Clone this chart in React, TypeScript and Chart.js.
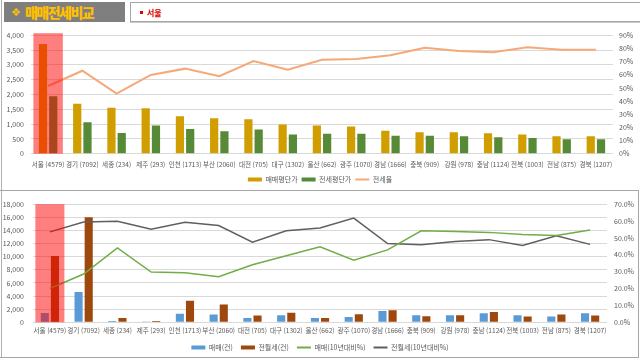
import React, { useEffect, useRef } from 'react';
import { Chart, registerables } from 'chart.js';

Chart.register(...registerables);

const categories = [
  '서울 (4579)', '경기 (7092)', '세종 (234)', '제주 (293)', '인천 (1713)', '부산 (2060)',
  '대전 (705)', '대구 (1302)', '울산 (662)', '광주 (1070)', '경남 (1666)', '충북 (909)',
  '강원 (978)', '충남 (1124)', '전북 (1003)', '전남 (875)', '경북 (1207)',
];

// Top chart
const salePrice = [3700, 1690, 1550, 1530, 1265, 1200, 1165, 985, 955, 920, 775, 720, 720, 690, 645, 590, 590];
const jeonsePrice = [1940, 1065, 700, 955, 830, 755, 820, 645, 675, 675, 610, 610, 590, 555, 530, 490, 490];
const jeonseRate = [51.4, 63, 45.6, 59.8, 64.6, 58.8, 70.3, 63.8, 71.3, 72, 74.8, 80.5, 78, 77, 80.8, 79, 79];

// Bottom chart
const tradeCount = [1400, 4600, 200, 60, 1320, 1180, 640, 1080, 640, 790, 1720, 1080, 1080, 1370, 1080, 880, 1370];
const rentCount = [10100, 16000, 640, 200, 3290, 2700, 1030, 1470, 640, 1230, 1820, 930, 1080, 1570, 880, 1180, 1030];
const tradeRate10 = [20.0, 28.6, 44.1, 29.8, 29.4, 27.0, 34.1, 39.5, 44.8, 36.8, 42.9, 54.2, 53.8, 53.3, 52.1, 51.5, 54.7];
const rentRate10 = [53.6, 59.5, 59.9, 55.1, 59.3, 57.4, 47.5, 54.2, 55.9, 61.8, 46.7, 46.0, 47.9, 49.0, 45.6, 51.3, 46.2];

const highlightIndex = 0;

const FONT = '"Noto Sans CJK KR", "Noto Sans", sans-serif';
const TICK = '#595959';
const GRID = '#D9D9D9';

const highlightPlugin = {
  id: 'highlight',
  afterDatasetsDraw(chart: any, _args: any, opts: any) {
    const x = chart.scales.x;
    const area = chart.chartArea;
    const cw = (area.right - area.left) / categories.length;
    const cx = x.getPixelForValue(highlightIndex);
    const w = cw * (opts.ratio || 0.86);
    const ctx = chart.ctx;
    ctx.save();
    ctx.fillStyle = 'rgba(255,0,0,0.5)';
    const top = area.top - (opts.extra || 0);
    ctx.fillRect(cx - w / 2, top, w, area.bottom - top);
    ctx.restore();
  },
};

const legendLabels = (chart: any) => {
  const items = (Chart.defaults.plugins.legend.labels as any).generateLabels(chart);
  items.sort((a: any, b: any) => a.datasetIndex - b.datasetIndex);
  items.forEach((it: any) => {
    const ds = chart.data.datasets[it.datasetIndex];
    if (ds.type === 'line') {
      it.pointStyle = 'line';
      it.lineWidth = 2;
      it.strokeStyle = ds.borderColor;
    } else {
      it.pointStyle = 'rect';
      it.lineWidth = 0;
      it.strokeStyle = ds.backgroundColor;
    }
    it.fontColor = TICK;
  });
  return items;
};

function makeOptions(cfg: any) {
  return {
    responsive: false,
    animation: false,
    layout: { padding: { top: cfg.padTop, bottom: 0, left: 0, right: 0 } },
    plugins: {
      legend: {
        position: 'bottom',
        labels: {
          usePointStyle: true,
          pointStyleWidth: 14,
          boxHeight: 4,
          padding: cfg.legPad,
          color: TICK,
          font: { family: FONT, size: 7 },
          generateLabels: legendLabels,
          sort: (a: any, b: any) => a.datasetIndex - b.datasetIndex,
        },
      },
      tooltip: { enabled: false },
      highlight: { extra: cfg.hlExtra, ratio: 0.86 },
    },
    scales: {
      x: {
        grid: { display: false, drawTicks: false },
        border: { display: false },
        ticks: { autoSkip: false, maxRotation: 0, minRotation: 0, color: TICK, font: { family: FONT, size: 6.6 }, padding: cfg.xPad },
        afterFit: (s: any) => { s.height = cfg.xH; },
      },
      y: {
        position: 'left',
        min: 0,
        max: cfg.yMax,
        grid: { color: GRID, drawTicks: false },
        border: { display: false },
        ticks: {
          stepSize: cfg.yStep,
          color: TICK,
          font: { family: FONT, size: 7 },
          padding: cfg.yPad,
          callback: (v: any) => Number(v).toLocaleString('en-US'),
        },
        afterFit: (s: any) => { s.width = cfg.yW; },
      },
      y1: {
        position: 'right',
        min: 0,
        max: cfg.y1Max,
        grid: { display: false, drawTicks: false },
        border: { display: false },
        ticks: {
          stepSize: 10,
          color: TICK,
          font: { family: FONT, size: 7 },
          padding: cfg.y1Pad,
          callback: cfg.y1Fmt,
        },
        afterFit: (s: any) => { s.width = cfg.y1W; },
      },
    },
  };
}

function TopChart() {
  const ref = useRef<HTMLCanvasElement>(null);
  useEffect(() => {
    const chart = new Chart(ref.current as HTMLCanvasElement, {
      type: 'bar',
      data: {
        labels: categories,
        datasets: [
          { type: 'bar', label: '매매평단가', data: salePrice, backgroundColor: '#D09E00', borderWidth: 0, yAxisID: 'y', order: 2, categoryPercentage: 0.6, barPercentage: 0.8 },
          { type: 'bar', label: '전세평단가', data: jeonsePrice, backgroundColor: '#568A37', borderWidth: 0, yAxisID: 'y', order: 2, categoryPercentage: 0.6, barPercentage: 0.8 },
          { type: 'line', label: '전세율', data: jeonseRate, borderColor: '#F6A878', backgroundColor: '#F6A878', borderWidth: 2, pointRadius: 0, tension: 0, yAxisID: 'y1', order: 1 },
        ],
      } as any,
      options: makeOptions({
        padTop: 9, hlExtra: 2, xH: 18.3, xPad: 7, legPad: 4, yMax: 4000, yStep: 500, yPad: 7, yW: 31,
        y1Max: 90, y1Pad: 6, y1W: 27, y1Fmt: (v: any) => `${v}%`,
      }) as any,
      plugins: [highlightPlugin],
    });
    return () => chart.destroy();
  }, []);
  return <canvas ref={ref} width={640} height={169} style={{ position: 'absolute', left: 0, top: 24, width: 640, height: 169 }} />;
}

function BottomChart() {
  const ref = useRef<HTMLCanvasElement>(null);
  useEffect(() => {
    const chart = new Chart(ref.current as HTMLCanvasElement, {
      type: 'bar',
      data: {
        labels: categories,
        datasets: [
          { type: 'bar', label: '매매(건)', data: tradeCount, backgroundColor: '#5B9BD5', borderWidth: 0, yAxisID: 'y', order: 2, categoryPercentage: 0.6, barPercentage: 0.8 },
          { type: 'bar', label: '전월세(건)', data: rentCount, backgroundColor: '#9E480E', borderWidth: 0, yAxisID: 'y', order: 2, categoryPercentage: 0.6, barPercentage: 0.8 },
          { type: 'line', label: '매매(10년대비%)', data: tradeRate10, borderColor: '#70AD47', backgroundColor: '#70AD47', borderWidth: 1.5, pointRadius: 0, tension: 0, yAxisID: 'y1', order: 1 },
          { type: 'line', label: '전월세(10년대비%)', data: rentRate10, borderColor: '#5F5F5F', backgroundColor: '#5F5F5F', borderWidth: 1.5, pointRadius: 0, tension: 0, yAxisID: 'y1', order: 1 },
        ],
      } as any,
      options: makeOptions({
        padTop: 9, hlExtra: 0, xH: 13.7, xPad: 4, legPad: 8, yMax: 18000, yStep: 2000, yPad: 9, yW: 33,
        y1Max: 70, y1Pad: 7, y1W: 33, y1Fmt: (v: any) => `${Number(v).toFixed(1)}%`,
      }) as any,
      plugins: [highlightPlugin],
    });
    return () => chart.destroy();
  }, []);
  return <canvas ref={ref} width={640} height={170} style={{ position: 'absolute', left: 0, top: 191, width: 640, height: 170 }} />;
}

export default function App() {
  return (
    <div style={{ position: 'absolute', left: 0, top: 0, width: 640, height: 360, overflow: 'hidden', background: '#fff', fontFamily: FONT }}>
      {/* outer left line */}
      <div style={{ position: 'absolute', left: 1, top: 0, width: 1, height: 358, background: '#B0B0B0' }} />
      {/* header box */}
      <div style={{ position: 'absolute', left: 4, top: 2, width: 121, height: 20, background: '#7F7F7F', color: '#FFC000', fontWeight: 900, display: 'flex', alignItems: 'center', whiteSpace: 'nowrap' }}>
        <span style={{ fontSize: 11, marginLeft: 7, marginRight: 4, fontFamily: '"DejaVu Sans", sans-serif' }}>❖</span>
        <span style={{ fontSize: 14, letterSpacing: -1.5, fontFamily: FONT }}>매매전세비교</span>
      </div>
      {/* selection box */}
      <div style={{ position: 'absolute', left: 130, top: 2, width: 512, height: 18, border: '1px solid #A6A6A6', boxShadow: '0 1px 0 #C8C8C8', background: '#fff', display: 'flex', alignItems: 'center' }}>
        <div style={{ width: 3, height: 3, background: '#E00000', marginLeft: 9, marginRight: 4 }} />
        <span style={{ color: '#E00000', fontSize: 8, fontWeight: 700 }}>서울</span>
      </div>
      {/* bottom panel frame */}
      <div style={{ position: 'absolute', left: 0, top: 190, width: 638, height: 166, borderTop: '1px solid #A6A6A6', borderRight: '1px solid #A6A6A6', borderBottom: '1px solid #A6A6A6' }} />
      <TopChart />
      <BottomChart />
    </div>
  );
}
